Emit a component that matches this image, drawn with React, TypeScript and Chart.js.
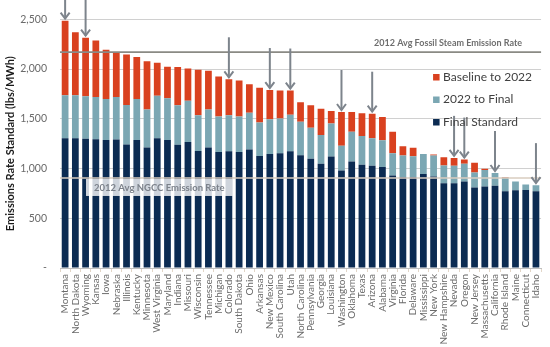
import React, { useEffect, useRef } from "react";
import { Chart, registerables } from "chart.js";

Chart.register(...registerables);

const states = [
  "Montana", "North Dakota", "Wyoming", "Kansas", "Iowa", "Nebraska", "Illinois", "Kentucky",
  "Minnesota", "West Virginia", "Maryland", "Indiana", "Missouri", "Wisconsin", "Tennessee",
  "Michigan", "Colorado", "South Dakota", "Ohio", "Arkansas", "New Mexico", "South Carolina",
  "Utah", "North Carolina", "Pennsylvania", "Georgia", "Louisiana", "Washington", "Oklahoma",
  "Texas", "Arizona", "Alabama", "Virginia", "Florida", "Delaware", "Mississippi", "New York",
  "New Hampshire", "Nevada", "Oregon", "New Jersey", "Massachusetts", "California",
  "Rhode Island", "Maine", "Connecticut", "Idaho",
];

// Final standard (lbs/MWh)
const finalStandard = [
  1305, 1305, 1300, 1294, 1286, 1292, 1242, 1287, 1212, 1305, 1287, 1240, 1266, 1175, 1212,
  1166, 1173, 1166, 1192, 1126, 1146, 1153, 1174, 1133, 1097, 1047, 1120, 981, 1071, 1038,
  1028, 1015, 929, 915, 916, 944, 919, 853, 853, 870, 810, 820, 827, 771, 781, 784, 771,
];

// 2022 interim rate (lbs/MWh)
const rate2022 = [
  1736, 1736, 1726, 1719, 1700, 1719, 1638, 1700, 1594, 1732, 1707, 1636, 1681, 1536, 1594,
  1522, 1535, 1522, 1561, 1462, 1495, 1502, 1540, 1469, 1410, 1337, 1453, 1228, 1370, 1327,
  1304, 1285, 1153, 1130, 1124, 1146, 1130, 1030, 1028, 1047, 961, 985, 955, 906, 870, 840, 833,
];

// Baseline rate (lbs/MWh)
const baselineRate = [
  2486, 2370, 2315, 2286, 2194, 2162, 2145, 2121, 2078, 2062, 2024, 2020, 2005, 1993, 1983,
  1924, 1897, 1884, 1848, 1811, 1789, 1785, 1784, 1667, 1637, 1601, 1578, 1568, 1568, 1555,
  1551, 1519, 1370, 1225, 1209, 1146, 1140, 1113, 1107, 1090, 1057, 998, 955, 916, 870, 840, 833,
];

const fossilSteamAvg = 2170;
const ngccAvg = 905;
const arrowStates = [
  "Montana", "Wyoming", "Colorado", "New Mexico", "Utah", "Washington", "Arizona",
  "Nevada", "Oregon", "California", "Idaho",
];
const seriesNames = ["Final Standard", "2022 to Final", "Baseline to 2022"];
const fossilLabel = "2012 Avg Fossil Steam Emission Rate";
const ngccLabel = "2012 Avg NGCC Emission Rate";
const yTitle = "Emissions Rate Standard (lbs/MWh)";

const COLORS = ["#0B2B52", "#7BA7B3", "#D9411F"];
const FONT = "Lato";

const overlayPlugin = {
  id: "overlay",
  afterDatasetsDraw(chart: any) {
    const { ctx, chartArea, scales } = chart;
    const x = scales.x;
    const y = scales.y;
    ctx.save();

    // NGCC line
    const yN = y.getPixelForValue(ngccAvg);
    ctx.strokeStyle = "#d8ccbf";
    ctx.lineWidth = 1.5;
    ctx.beginPath();
    ctx.moveTo(chartArea.left, yN);
    ctx.lineTo(chartArea.right, yN);
    ctx.stroke();

    // Fossil steam line
    const yF = y.getPixelForValue(fossilSteamAvg);
    ctx.strokeStyle = "#8a8a84";
    ctx.lineWidth = 1.6;
    ctx.beginPath();
    ctx.moveTo(chartArea.left, yF);
    ctx.lineTo(chartArea.right, yF);
    ctx.stroke();

    // Fossil label
    ctx.font = `bold 9px ${FONT}`;
    ctx.fillStyle = "#6e6e6e";
    ctx.textAlign = "right";
    ctx.textBaseline = "middle";
    ctx.fillText(fossilLabel, chartArea.right - 19, yF - 9);

    // NGCC label box
    ctx.font = `bold 9.5px ${FONT}`;
    const tw = ctx.measureText(ngccLabel).width;
    const bx = chartArea.left + 26;
    const by = yN + 1;
    const bw = tw + 16;
    const bh = 17;
    ctx.fillStyle = "rgba(255,255,255,0.8)";
    ctx.fillRect(bx, by, bw, bh);
    ctx.fillStyle = "#7b818a";
    ctx.textAlign = "left";
    ctx.fillText(ngccLabel, bx + 8, by + bh / 2 + 0.5);

    // Arrows
    ctx.strokeStyle = "#7d848c";
    ctx.lineWidth = 2;
    arrowStates.forEach((s) => {
      const i = states.indexOf(s);
      const xp = x.getPixelForValue(i);
      const tip = y.getPixelForValue(baselineRate[i]) - 2;
      const start = tip - 40;
      ctx.beginPath();
      ctx.moveTo(xp, start);
      ctx.lineTo(xp, tip);
      ctx.stroke();
      ctx.beginPath();
      ctx.moveTo(xp - 4.5, tip - 6);
      ctx.lineTo(xp, tip);
      ctx.lineTo(xp + 4.5, tip - 6);
      ctx.stroke();
    });

    // Legend
    const lx = chartArea.right - 108;
    const rows = [
      { name: seriesNames[2], color: COLORS[2] },
      { name: seriesNames[1], color: COLORS[1] },
      { name: seriesNames[0], color: COLORS[0] },
    ];
    ctx.font = `12px ${FONT}`;
    ctx.textAlign = "left";
    ctx.textBaseline = "middle";
    rows.forEach((r, k) => {
      const cy = 77 + k * 22.5;
      ctx.fillStyle = r.color;
      ctx.fillRect(lx, cy - 3, 6.5, 6.5);
      ctx.fillStyle = "#404040";
      ctx.fillText(r.name, lx + 10, cy);
    });

    ctx.restore();
  },
};

export default function App() {
  const ref = useRef<HTMLCanvasElement | null>(null);

  useEffect(() => {
    document.body.style.margin = "0";
    const canvas = ref.current;
    if (!canvas) return;

    const interimGap = rate2022.map((v, i) => v - finalStandard[i]);
    const baselineGap = baselineRate.map((v, i) => v - rate2022[i]);

    const chart = new Chart(canvas, {
      type: "bar",
      data: {
        labels: states,
        datasets: [
          { label: seriesNames[0], data: finalStandard, backgroundColor: COLORS[0] },
          { label: seriesNames[1], data: interimGap, backgroundColor: COLORS[1] },
          { label: seriesNames[2], data: baselineGap, backgroundColor: COLORS[2] },
        ],
      },
      options: {
        responsive: false,
        animation: false,
        layout: { padding: { top: 15, right: 4, left: 0, bottom: 0 } },
        datasets: { bar: { barPercentage: 0.66, categoryPercentage: 1 } },
        plugins: { legend: { display: false }, tooltip: { enabled: false } },
        scales: {
          x: {
            stacked: true,
            grid: { drawOnChartArea: false, drawTicks: true, tickLength: 4, color: "#e2d6c8" },
            border: { display: true, color: "#bfbfbf", width: 1 },
            ticks: {
              autoSkip: false,
              maxRotation: 90,
              minRotation: 90,
              padding: 2,
              color: "#6a6a6a",
              font: { family: FONT, size: 10 },
            },
            afterFit: (scale: any) => {
              scale.height = 79;
            },
          },
          y: {
            stacked: true,
            min: 0,
            max: 2500,
            ticks: {
              stepSize: 500,
              padding: 13,
              color: "#6a6a6a",
              font: { family: FONT, size: 10.5 },
              callback: (v: any) => (Number(v) === 0 ? "-" : Number(v).toLocaleString("en-US")),
            },
            grid: { color: "#d0d0d0", drawTicks: false },
            border: { display: false },
            title: {
              display: true,
              text: yTitle,
              color: "#1a1a1a",
              font: { family: FONT, size: 11, weight: "bold" },
              padding: { top: 4, bottom: 0 },
            },
            afterFit: (scale: any) => {
              scale.width = 60;
            },
          },
        },
      },
      plugins: [overlayPlugin],
    });

    return () => chart.destroy();
  }, []);

  return <canvas ref={ref} width={550} height={347} style={{ display: "block" }} />;
}
